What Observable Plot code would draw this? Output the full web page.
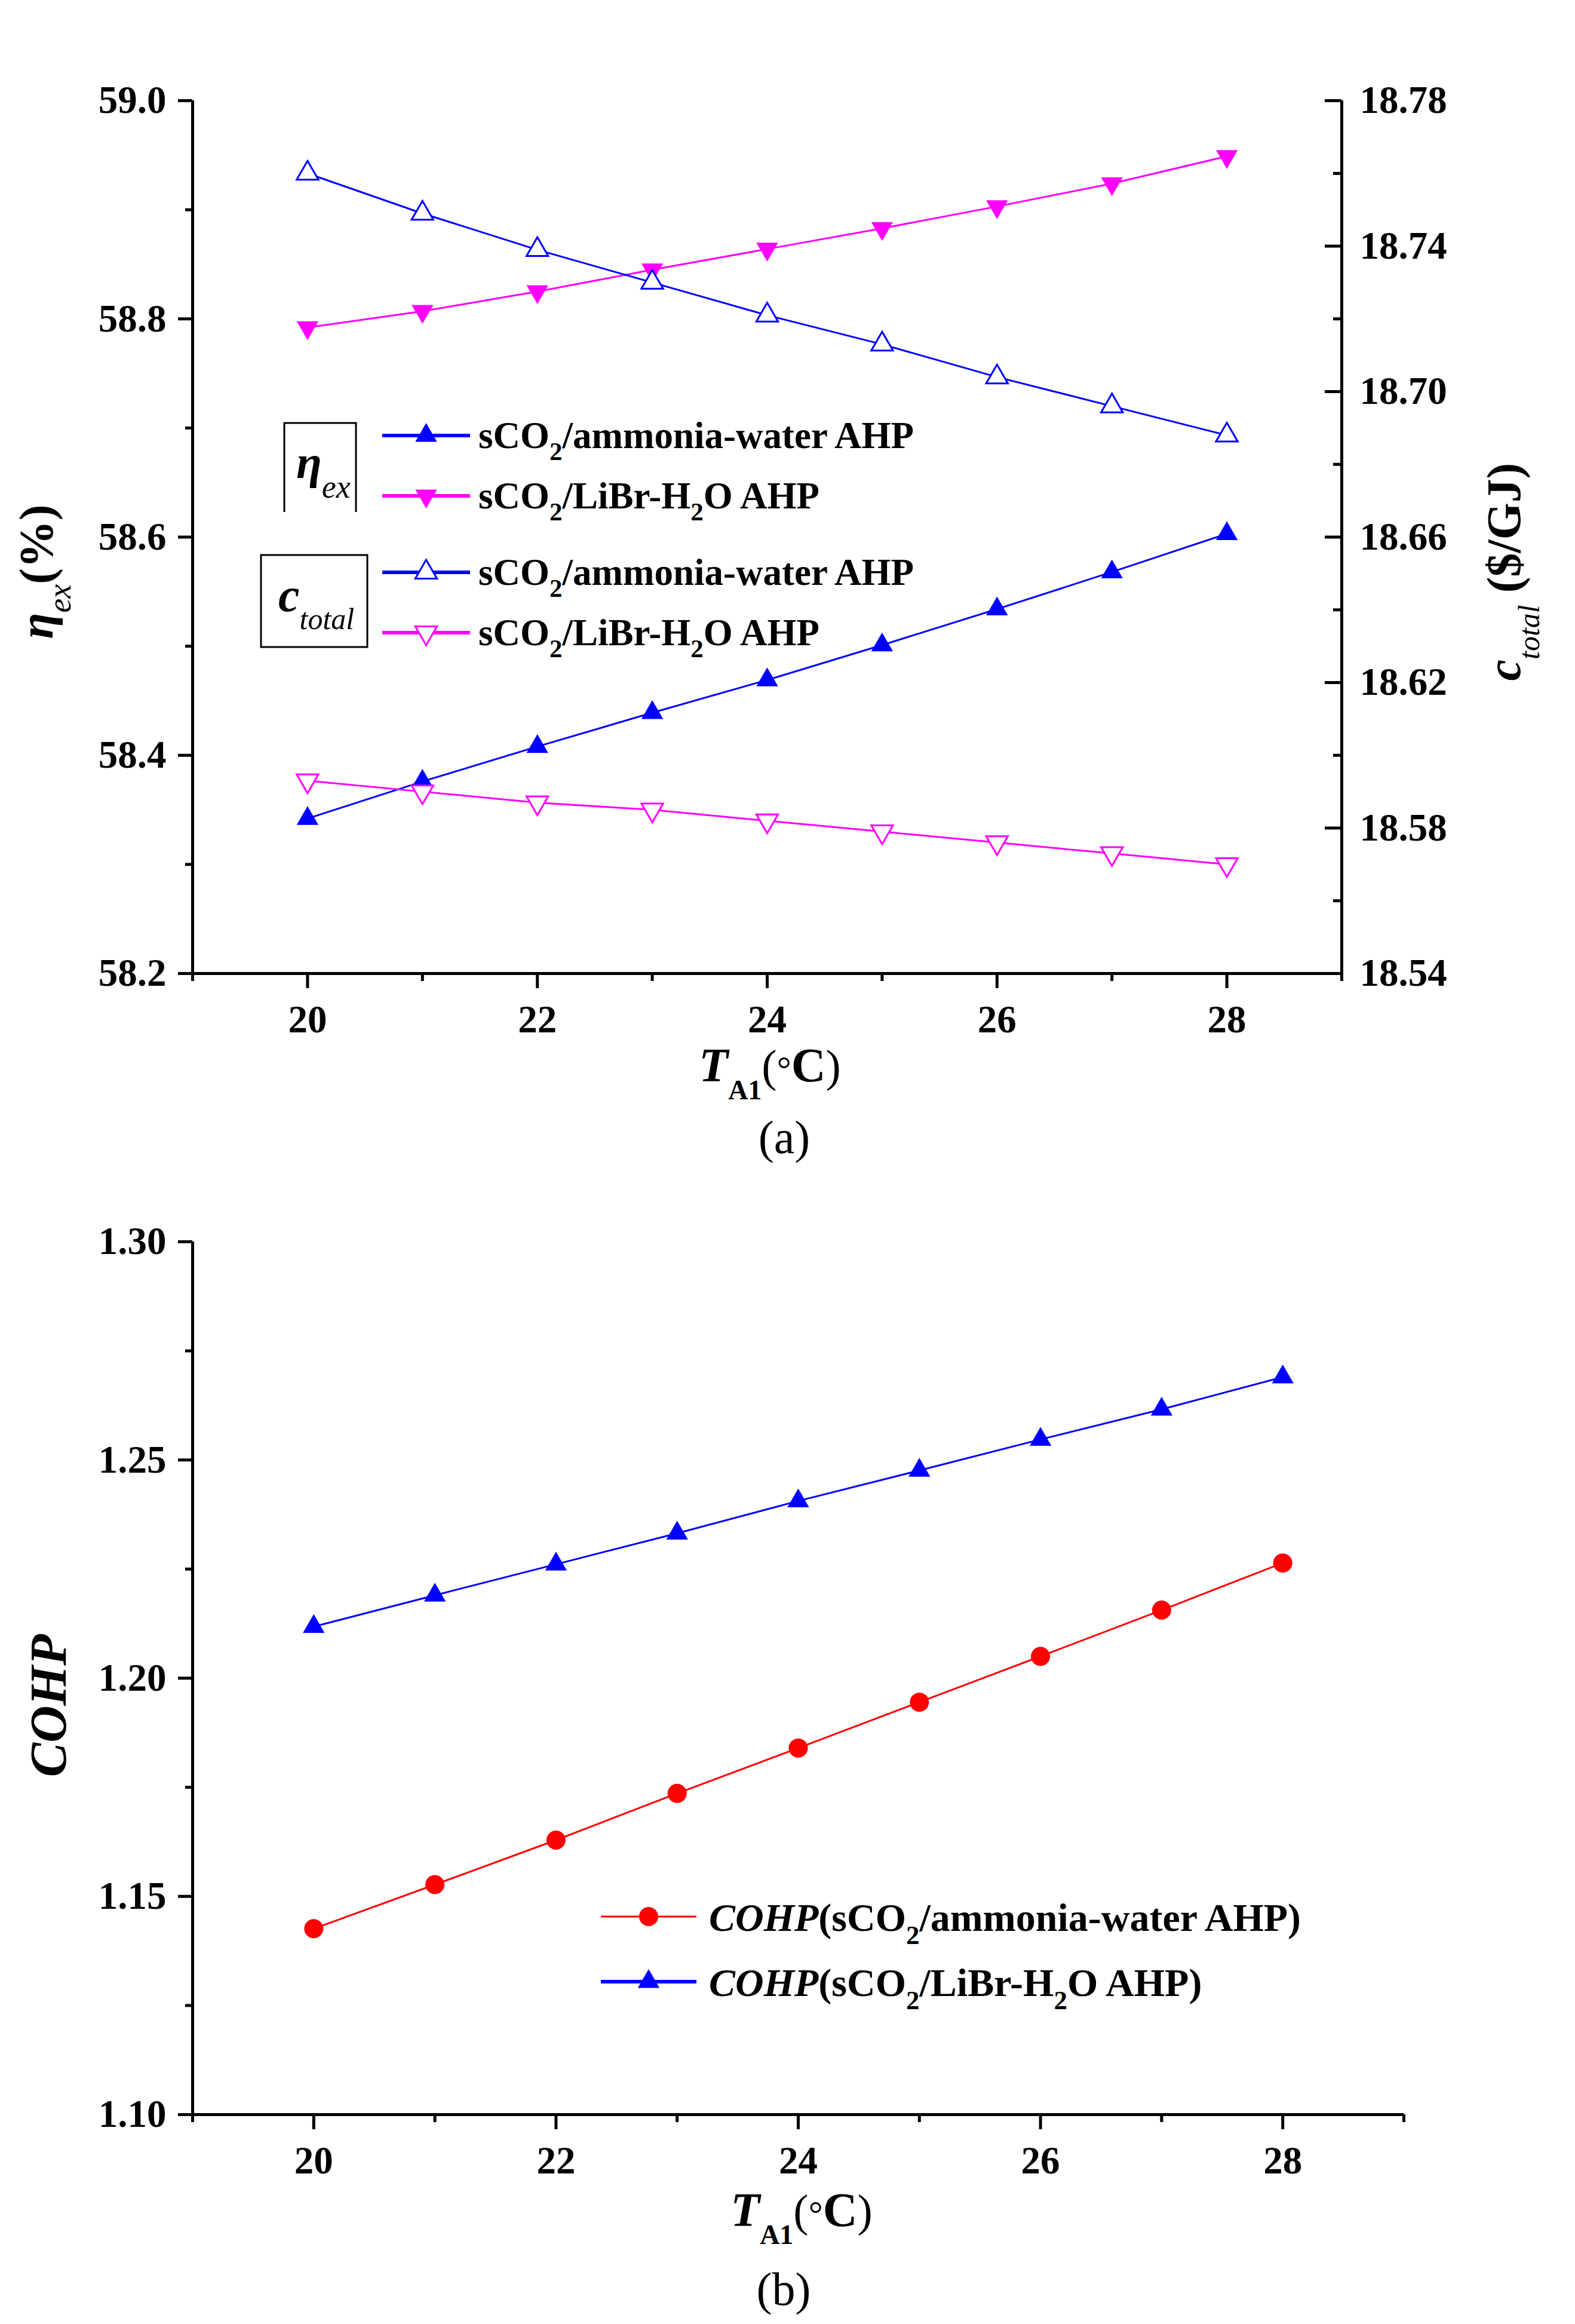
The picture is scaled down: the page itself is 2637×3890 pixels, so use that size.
<!DOCTYPE html>
<html>
<head>
<meta charset="utf-8">
<script src="https://cdn.jsdelivr.net/npm/d3@7"></script>
<script src="https://cdn.jsdelivr.net/npm/@observablehq/plot@0.6"></script>
<style>
  html, body { margin: 0; padding: 0; background: #ffffff; }
  #root { position: relative; width: 2637px; height: 3890px; background: #ffffff; overflow: hidden; }
  #root svg { position: absolute; left: 0; }
</style>
</head>
<body>
<div id="root"></div>
<script>
// ---------------- data ----------------
const T = [20, 21, 22, 23, 24, 25, 26, 27, 28];
// panel (a): exergy efficiency (%) — left axis
const etaAmmonia = [58.342, 58.376, 58.408, 58.439, 58.469, 58.501, 58.534, 58.568, 58.603];
const etaLiBr    = [58.792, 58.807, 58.825, 58.845, 58.864, 58.883, 58.903, 58.924, 58.949];
// panel (a): total unit cost ($/GJ) — right axis
const cAmmonia = [18.760, 18.749, 18.739, 18.730, 18.721, 18.713, 18.704, 18.696, 18.688];
const cLiBr    = [18.593, 18.590, 18.587, 18.585, 18.582, 18.579, 18.576, 18.573, 18.570];
// panel (b): COHP
const cohpAmmonia = [1.1426, 1.1527, 1.1629, 1.1736, 1.1840, 1.1945, 1.2050, 1.2156, 1.2264];
const cohpLiBr    = [1.2118, 1.2190, 1.2261, 1.2332, 1.2406, 1.2476, 1.2547, 1.2616, 1.2690];

// ticks
const xMajor = [20, 22, 24, 26, 28];
const xMinor = [19, 21, 23, 25, 27, 29];
const etaMajor = [58.2, 58.4, 58.6, 58.8, 59.0];
const etaMinor = [58.3, 58.5, 58.7, 58.9];
const cMajor = [18.54, 18.58, 18.62, 18.66, 18.70, 18.74, 18.78];
const cMinor = [18.56, 18.60, 18.64, 18.68, 18.72, 18.76];
const cohpMajor = [1.10, 1.15, 1.20, 1.25, 1.30];
const cohpMinor = [1.125, 1.175, 1.225, 1.275];

// ---------------- setup ----------------
const FONT = '"Liberation Serif", "Times New Roman", Times, serif';
const BLUE = "#0000ff", MAG = "#ff00ff", RED = "#ff0000";
const noLabel = () => "";

const rows = T.map((t, i) => ({
  t,
  etaAW: etaAmmonia[i], etaLB: etaLiBr[i],
  cAW: cAmmonia[i], cLB: cLiBr[i],
  cohpAW: cohpAmmonia[i], cohpLB: cohpLiBr[i]
}));

// right axis (c_total) mapped onto the left (eta) scale
const cToEta = d3.scaleLinear().domain([18.54, 18.78]).range([58.2, 59.0]);

const triUp = d3.symbolTriangle;
const triDown = {
  draw(ctx, size) {
    const y = -Math.sqrt(size / (Math.sqrt(3) * 3));
    ctx.moveTo(0, -2 * y);
    ctx.lineTo(-Math.sqrt(3) * y, y);
    ctx.lineTo(Math.sqrt(3) * y, y);
    ctx.closePath();
  }
};
const TRI_R = 13.5;
const CIRC_R = 16;

const baseStyle = {
  fontFamily: FONT, fontSize: "65px", fontWeight: "bold",
  color: "#000", background: "transparent", overflow: "visible"
};

// ---------------- panel (a) ----------------
const plotA = Plot.plot({
  width: 2637, height: 1740,
  marginTop: 168, marginLeft: 322, marginRight: 391, marginBottom: 111,
  style: baseStyle,
  x: {domain: [19, 29], label: null},
  y: {domain: [58.2, 59.0], label: null},
  marks: [
    Plot.ruleX([19, 29], {strokeWidth: 5}),
    Plot.ruleY([58.2], {strokeWidth: 5}),
    Plot.axisX(xMajor, {tickSize: 25, tickPadding: 27, strokeWidth: 5, label: null, tickFormat: d => String(d)}),
    Plot.axisX(xMinor, {tickSize: 13, strokeWidth: 5, label: null, tickFormat: noLabel}),
    Plot.axisY(etaMajor, {anchor: "left", tickSize: 24, tickPadding: 20, strokeWidth: 5, label: null, tickFormat: d => d.toFixed(1)}),
    Plot.axisY(etaMinor, {anchor: "left", tickSize: 12, strokeWidth: 5, label: null, tickFormat: noLabel}),
    Plot.axisY(cMajor.map(cToEta), {anchor: "right", tickSize: 0, tickPadding: 30, label: null, tickFormat: d => cToEta.invert(d).toFixed(2)}),
    Plot.ruleY(cMajor.map(cToEta), {x1: 29, x2: 29, insetLeft: -28, strokeWidth: 5}),
    Plot.ruleY(cMinor.map(cToEta), {x1: 29, x2: 29, insetLeft: -14, strokeWidth: 5}),

    Plot.line(rows, {x: "t", y: "etaAW", stroke: BLUE, strokeWidth: 3}),
    Plot.line(rows, {x: "t", y: "etaLB", stroke: MAG, strokeWidth: 3}),
    Plot.line(rows, {x: "t", y: d => cToEta(d.cAW), stroke: BLUE, strokeWidth: 3}),
    Plot.line(rows, {x: "t", y: d => cToEta(d.cLB), stroke: MAG, strokeWidth: 3}),

    Plot.dot(rows, {x: "t", y: "etaAW", symbol: triUp, r: TRI_R, fill: BLUE, stroke: null}),
    Plot.dot(rows, {x: "t", y: "etaLB", symbol: triDown, r: TRI_R, fill: MAG, stroke: null}),
    Plot.dot(rows, {x: "t", y: d => cToEta(d.cAW), symbol: triUp, r: TRI_R, fill: "#fff", stroke: BLUE, strokeWidth: 3}),
    Plot.dot(rows, {x: "t", y: d => cToEta(d.cLB), symbol: triDown, r: TRI_R, fill: "#fff", stroke: MAG, strokeWidth: 3})
  ]
});
plotA.style.top = "0px";
document.getElementById("root").appendChild(plotA);

// ---------------- panel (b) ----------------
const plotB = Plot.plot({
  width: 2637, height: 1680,
  marginTop: 118, marginLeft: 322, marginRight: 287, marginBottom: 101,
  style: baseStyle,
  x: {domain: [19, 29], label: null},
  y: {domain: [1.10, 1.30], label: null},
  marks: [
    Plot.ruleX([19], {strokeWidth: 5}),
    Plot.ruleY([1.10], {strokeWidth: 5}),
    Plot.axisX(xMajor, {tickSize: 25, tickPadding: 27, strokeWidth: 5, label: null, tickFormat: d => String(d)}),
    Plot.axisX(xMinor, {tickSize: 13, strokeWidth: 5, label: null, tickFormat: noLabel}),
    Plot.axisY(cohpMajor, {anchor: "left", tickSize: 24, tickPadding: 20, strokeWidth: 5, label: null, tickFormat: d => d.toFixed(2)}),
    Plot.axisY(cohpMinor, {anchor: "left", tickSize: 12, strokeWidth: 5, label: null, tickFormat: noLabel}),

    Plot.line(rows, {x: "t", y: "cohpAW", stroke: RED, strokeWidth: 3}),
    Plot.line(rows, {x: "t", y: "cohpLB", stroke: BLUE, strokeWidth: 3}),
    Plot.dot(rows, {x: "t", y: "cohpAW", symbol: "circle", r: CIRC_R, fill: RED, stroke: null}),
    Plot.dot(rows, {x: "t", y: "cohpLB", symbol: triUp, r: TRI_R, fill: BLUE, stroke: null})
  ]
});
plotB.style.top = "1960px";
document.getElementById("root").appendChild(plotB);

// ---------------- titles & legends (overlay) ----------------
const overlay = d3.select("#root").append("svg")
  .attr("width", 2637).attr("height", 3890)
  .style("top", "0px").style("pointer-events", "none")
  .style("font-family", FONT);

function rich(x, y, parts, {anchor = "start", rotate = 0, fill = "#000"} = {}) {
  const t = overlay.append("text")
    .attr("transform", `translate(${x},${y}) rotate(${rotate})`)
    .attr("text-anchor", anchor).attr("fill", fill)
    .style("white-space", "pre");
  let cur = 0;
  for (const p of parts) {
    const s = t.append("tspan").text(p.t)
      .attr("font-size", p.size)
      .attr("font-weight", p.bold ? "bold" : "normal")
      .attr("font-style", p.italic ? "italic" : "normal");
    const shift = (p.shift || 0) - cur;
    if (shift) s.attr("dy", shift);
    cur = p.shift || 0;
  }
  return t;
}

// axis titles, panel (a)
rich(88, 957, [
  {t: "\u03B7", size: 80, bold: true, italic: true},
  {t: "ex", size: 54, italic: true, shift: 30},
  {t: "(%)", size: 80, bold: true}
], {anchor: "middle", rotate: -90});

rich(2545, 957, [
  {t: "c", size: 80, bold: true, italic: true},
  {t: "total", size: 50, italic: true, shift: 32},
  {t: " ($/GJ)", size: 80, bold: true}
], {anchor: "middle", rotate: -90});

rich(1289, 1810, [
  {t: "T", size: 80, bold: true, italic: true},
  {t: "A1", size: 46, bold: true, shift: 30},
  {t: "(", size: 76},
  {t: "\u00B0", size: 60},
  {t: "C", size: 80, bold: true},
  {t: ")", size: 76}
], {anchor: "middle"});

rich(1313, 1930, [{t: "(a)", size: 78}], {anchor: "middle"});

// axis titles, panel (b)
rich(110, 2855, [{t: "COHP", size: 86, bold: true, italic: true}], {anchor: "middle", rotate: -90});

rich(1342, 3726, [
  {t: "T", size: 80, bold: true, italic: true},
  {t: "A1", size: 46, bold: true, shift: 30},
  {t: "(", size: 76},
  {t: "\u00B0", size: 60},
  {t: "C", size: 80, bold: true},
  {t: ")", size: 76}
], {anchor: "middle"});

rich(1312, 3858, [{t: "(b)", size: 78}], {anchor: "middle"});

// legend helpers
function swatch(x1, x2, y, color, lineW, symbolType, r, filled) {
  overlay.append("line").attr("x1", x1).attr("x2", x2).attr("y1", y).attr("y2", y)
    .attr("stroke", color).attr("stroke-width", lineW);
  overlay.append("path")
    .attr("d", d3.symbol(symbolType, Math.PI * r * r)())
    .attr("transform", `translate(${(x1 + x2) / 2},${y})`)
    .attr("fill", filled ? color : "#fff")
    .attr("stroke", filled ? "none" : color)
    .attr("stroke-width", filled ? 0 : 3);
}

// legend, panel (a)
overlay.append("path").attr("d", "M476,857V708H596V857").attr("fill", "none").attr("stroke", "#000").attr("stroke-width", 3);
overlay.append("rect").attr("x", 437).attr("y", 929).attr("width", 178).attr("height", 154)
  .attr("fill", "none").attr("stroke", "#000").attr("stroke-width", 3);
rich(496, 800, [
  {t: "\u03B7", size: 78, bold: true, italic: true},
  {t: "ex", size: 54, italic: true, shift: 33}
]);
rich(466, 1023, [
  {t: "c", size: 80, bold: true, italic: true},
  {t: "total", size: 50, italic: true, shift: 30}
]);

const legA = [
  {y: 729, color: BLUE, sym: triUp, filled: true, lib: false},
  {y: 830, color: MAG, sym: triDown, filled: true, lib: true},
  {y: 958, color: BLUE, sym: triUp, filled: false, lib: false},
  {y: 1059, color: MAG, sym: triDown, filled: false, lib: true}
];
for (const e of legA) {
  swatch(640, 787, e.y, e.color, 6, e.sym, TRI_R, e.filled);
  const parts = e.lib
    ? [{t: "sCO", size: 63, bold: true}, {t: "2", size: 43, bold: true, shift: 20}, {t: "/LiBr-H", size: 63, bold: true},
       {t: "2", size: 43, bold: true, shift: 20}, {t: "O AHP", size: 63, bold: true}]
    : [{t: "sCO", size: 63, bold: true}, {t: "2", size: 43, bold: true, shift: 20}, {t: "/ammonia-water AHP", size: 63, bold: true}];
  rich(801, e.y + 21, parts);
}

// legend, panel (b)
swatch(1006, 1166, 3208, RED, 3, d3.symbolCircle, CIRC_R, true);
rich(1187, 3232, [
  {t: "COHP", size: 66, bold: true, italic: true},
  {t: "(sCO", size: 66, bold: true},
  {t: "2", size: 45, bold: true, shift: 22},
  {t: "/ammonia-water AHP)", size: 66, bold: true}
]);
swatch(1006, 1166, 3317, BLUE, 6, triUp, TRI_R, true);
rich(1187, 3341, [
  {t: "COHP", size: 66, bold: true, italic: true},
  {t: "(sCO", size: 66, bold: true},
  {t: "2", size: 45, bold: true, shift: 22},
  {t: "/LiBr-H", size: 66, bold: true},
  {t: "2", size: 45, bold: true, shift: 22},
  {t: "O AHP)", size: 66, bold: true}
]);
</script>
</body>
</html>
